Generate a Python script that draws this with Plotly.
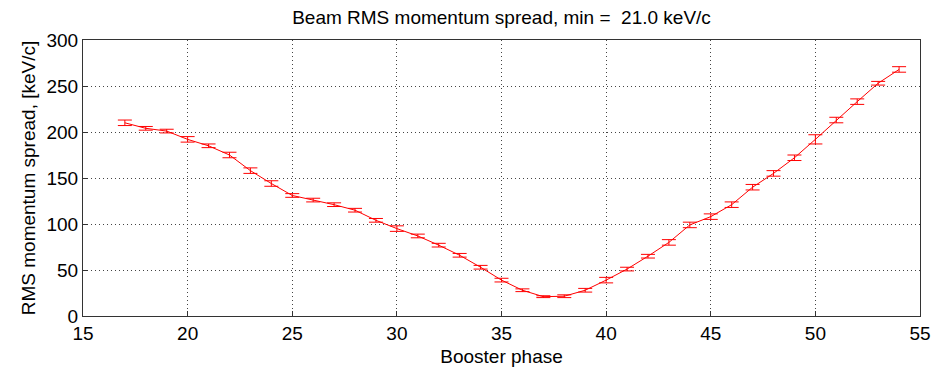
import plotly.graph_objects as go

phase = list(range(17, 55))
spread = [210, 204, 201, 192, 185, 175, 158, 144, 131, 126, 121, 115, 104, 95,
          87, 77, 66, 53, 39, 28, 21, 21.5, 28, 39, 51, 65, 80, 99, 108, 121,
          140, 155, 172, 192, 213, 233, 253, 268]
err = [3, 2, 2, 3, 2, 3, 3, 3, 2, 2, 2, 2, 2, 3, 2, 2, 2, 2, 2, 1.5, 1, 1.5,
       2, 3, 2, 2, 3, 3, 3, 3, 3, 3, 3, 5, 3, 3, 2, 3]

FONT = "Liberation Sans, Arial"

fig = go.Figure()
fig.add_trace(go.Scatter(
    x=phase, y=spread, mode="lines",
    line=dict(color="red", width=1),
    error_y=dict(type="data", array=err, visible=True, color="red",
                 thickness=1, width=7),
    showlegend=False,
))

axis_common = dict(
    showline=True, linecolor="#333333", linewidth=1, mirror=True,
    ticks="inside", ticklen=5, tickcolor="#333333",
    showgrid=True, gridcolor="#444444", griddash="1px,3px", gridwidth=1,
    zeroline=False,
    tickfont=dict(family=FONT, size=19, color="black"),
)

fig.update_layout(
    width=942, height=367,
    margin=dict(l=83, r=22, t=40, b=51),
    paper_bgcolor="white", plot_bgcolor="white",
    title=dict(text="Beam RMS momentum spread, min =  21.0 keV/c",
               xref="paper", x=0.5, xanchor="center",
               yref="container", y=0.953, yanchor="middle",
               font=dict(family=FONT, size=19, color="black")),
    xaxis=dict(range=[15, 55], tickvals=[15, 20, 25, 30, 35, 40, 45, 50, 55],
               automargin=False,
               title=dict(text="Booster phase",
                          font=dict(family=FONT, size=19, color="black")),
               **axis_common),
    yaxis=dict(range=[0, 300], tickvals=[0, 50, 100, 150, 200, 250, 300],
               automargin=True,
               title=dict(text="RMS momentum spread, [keV/c]", standoff=5,
                          font=dict(family=FONT, size=19, color="black")),
               **axis_common),
)

fig.write_html("out.html")
